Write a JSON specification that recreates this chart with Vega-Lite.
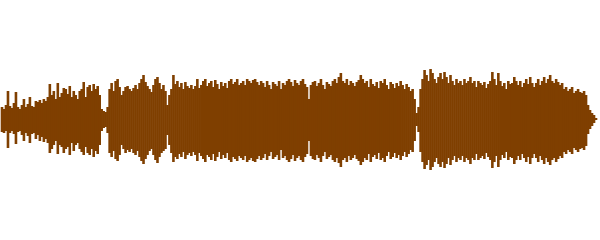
{
"$schema": "https://vega.github.io/schema/vega-lite/v6.json",
"width": 600, "height": 240,
"autosize": {"type": "fit", "contains": "padding"},
"padding": 0,
"background": "white",
"config": {"view": {"stroke": null}},
"data": {"values": [
{"x":0,"u":12,"d":-13},{"x":2,"u":10,"d":-14},{"x":4,"u":14,"d":-12},{"x":6,"u":28,"d":-29},{"x":8,"u":13,"d":-14},{"x":10,"u":11,"d":-12},{"x":12,"u":16,"d":-15},{"x":14,"u":27,"d":-25},{"x":16,"u":12,"d":-13},{"x":18,"u":10,"d":-12},
{"x":20,"u":14,"d":-16},{"x":22,"u":20,"d":-22},{"x":24,"u":12,"d":-14},{"x":26,"u":15,"d":-17},{"x":28,"u":22,"d":-24},{"x":30,"u":13,"d":-15},{"x":32,"u":12,"d":-14},{"x":34,"u":18,"d":-20},{"x":36,"u":17,"d":-16},{"x":38,"u":19,"d":-22},
{"x":40,"u":16,"d":-18},{"x":42,"u":20,"d":-23},{"x":44,"u":18,"d":-20},{"x":46,"u":22,"d":-24},{"x":48,"u":35,"d":-34},{"x":50,"u":24,"d":-30},{"x":52,"u":28,"d":-26},{"x":54,"u":20,"d":-22},{"x":56,"u":36,"d":-35},{"x":58,"u":22,"d":-26},
{"x":60,"u":26,"d":-28},{"x":62,"u":31,"d":-34},{"x":64,"u":30,"d":-30},{"x":66,"u":25,"d":-28},{"x":68,"u":33,"d":-36},{"x":70,"u":22,"d":-24},{"x":72,"u":28,"d":-32},{"x":74,"u":24,"d":-26},{"x":76,"u":20,"d":-24},{"x":78,"u":28,"d":-30},
{"x":80,"u":30,"d":-33},{"x":82,"u":37,"d":-36},{"x":84,"u":22,"d":-28},{"x":86,"u":32,"d":-34},{"x":88,"u":34,"d":-36},{"x":90,"u":28,"d":-30},{"x":92,"u":35,"d":-38},{"x":94,"u":30,"d":-32},{"x":96,"u":33,"d":-35},{"x":98,"u":24,"d":-26},
{"x":100,"u":10,"d":-12},{"x":102,"u":8,"d":-9},{"x":104,"u":7,"d":-8},{"x":106,"u":12,"d":-14},{"x":108,"u":30,"d":-34},{"x":110,"u":36,"d":-38},{"x":112,"u":28,"d":-32},{"x":114,"u":38,"d":-40},{"x":116,"u":40,"d":-42},{"x":118,"u":32,"d":-36},
{"x":120,"u":24,"d":-26},{"x":122,"u":28,"d":-30},{"x":124,"u":32,"d":-34},{"x":126,"u":33,"d":-31},{"x":128,"u":30,"d":-33},{"x":130,"u":28,"d":-30},{"x":132,"u":31,"d":-34},{"x":134,"u":34,"d":-36},{"x":136,"u":30,"d":-32},{"x":138,"u":36,"d":-38},
{"x":140,"u":40,"d":-42},{"x":142,"u":44,"d":-45},{"x":144,"u":37,"d":-40},{"x":146,"u":33,"d":-36},{"x":148,"u":30,"d":-32},{"x":150,"u":27,"d":-30},{"x":152,"u":34,"d":-36},{"x":154,"u":40,"d":-41},{"x":156,"u":42,"d":-44},{"x":158,"u":36,"d":-38},
{"x":160,"u":30,"d":-34},{"x":162,"u":34,"d":-32},{"x":164,"u":28,"d":-30},{"x":166,"u":14,"d":-16},{"x":168,"u":24,"d":-26},{"x":170,"u":30,"d":-34},{"x":172,"u":44,"d":-43},{"x":174,"u":35,"d":-38},{"x":176,"u":38,"d":-40},{"x":178,"u":32,"d":-35},
{"x":180,"u":36,"d":-38},{"x":182,"u":30,"d":-33},{"x":184,"u":37,"d":-40},{"x":186,"u":33,"d":-36},{"x":188,"u":31,"d":-34},{"x":190,"u":34,"d":-37},{"x":192,"u":30,"d":-33},{"x":194,"u":33,"d":-36},{"x":196,"u":40,"d":-42},{"x":198,"u":31,"d":-34},
{"x":200,"u":34,"d":-37},{"x":202,"u":38,"d":-40},{"x":204,"u":40,"d":-43},{"x":206,"u":33,"d":-36},{"x":208,"u":36,"d":-38},{"x":210,"u":38,"d":-41},{"x":212,"u":32,"d":-35},{"x":214,"u":39,"d":-42},{"x":216,"u":35,"d":-38},{"x":218,"u":30,"d":-33},
{"x":220,"u":37,"d":-40},{"x":222,"u":33,"d":-36},{"x":224,"u":36,"d":-39},{"x":226,"u":31,"d":-34},{"x":228,"u":38,"d":-41},{"x":230,"u":40,"d":-43},{"x":232,"u":35,"d":-38},{"x":234,"u":37,"d":-40},{"x":236,"u":40,"d":-42},{"x":238,"u":34,"d":-37},
{"x":240,"u":36,"d":-39},{"x":242,"u":38,"d":-41},{"x":244,"u":34,"d":-37},{"x":246,"u":40,"d":-43},{"x":248,"u":38,"d":-41},{"x":250,"u":36,"d":-39},{"x":252,"u":39,"d":-42},{"x":254,"u":40,"d":-43},{"x":256,"u":37,"d":-40},{"x":258,"u":34,"d":-37},
{"x":260,"u":38,"d":-41},{"x":262,"u":36,"d":-39},{"x":264,"u":32,"d":-35},{"x":266,"u":38,"d":-41},{"x":268,"u":34,"d":-37},{"x":270,"u":30,"d":-33},{"x":272,"u":37,"d":-40},{"x":274,"u":35,"d":-38},{"x":276,"u":33,"d":-36},{"x":278,"u":38,"d":-41},
{"x":280,"u":30,"d":-31},{"x":282,"u":36,"d":-39},{"x":284,"u":34,"d":-37},{"x":286,"u":38,"d":-41},{"x":288,"u":40,"d":-43},{"x":290,"u":37,"d":-40},{"x":292,"u":33,"d":-36},{"x":294,"u":39,"d":-42},{"x":296,"u":36,"d":-39},{"x":298,"u":34,"d":-37},
{"x":300,"u":38,"d":-41},{"x":302,"u":40,"d":-43},{"x":304,"u":35,"d":-38},{"x":306,"u":32,"d":-35},{"x":308,"u":20,"d":-22},{"x":310,"u":34,"d":-37},{"x":312,"u":37,"d":-40},{"x":314,"u":38,"d":-41},{"x":316,"u":33,"d":-36},{"x":318,"u":36,"d":-39},
{"x":320,"u":40,"d":-43},{"x":322,"u":34,"d":-37},{"x":324,"u":30,"d":-33},{"x":326,"u":37,"d":-40},{"x":328,"u":35,"d":-38},{"x":330,"u":33,"d":-36},{"x":332,"u":38,"d":-41},{"x":334,"u":40,"d":-43},{"x":336,"u":36,"d":-39},{"x":338,"u":42,"d":-44},
{"x":340,"u":46,"d":-48},{"x":342,"u":38,"d":-41},{"x":344,"u":36,"d":-39},{"x":346,"u":40,"d":-43},{"x":348,"u":34,"d":-37},{"x":350,"u":38,"d":-41},{"x":352,"u":36,"d":-39},{"x":354,"u":33,"d":-36},{"x":356,"u":37,"d":-40},{"x":358,"u":39,"d":-42},
{"x":360,"u":44,"d":-46},{"x":362,"u":40,"d":-43},{"x":364,"u":36,"d":-39},{"x":366,"u":38,"d":-41},{"x":368,"u":32,"d":-35},{"x":370,"u":40,"d":-43},{"x":372,"u":35,"d":-38},{"x":374,"u":33,"d":-36},{"x":376,"u":37,"d":-40},{"x":378,"u":31,"d":-34},
{"x":380,"u":38,"d":-41},{"x":382,"u":36,"d":-39},{"x":384,"u":40,"d":-43},{"x":386,"u":34,"d":-37},{"x":388,"u":30,"d":-33},{"x":390,"u":37,"d":-40},{"x":392,"u":35,"d":-38},{"x":394,"u":31,"d":-34},{"x":396,"u":36,"d":-39},{"x":398,"u":33,"d":-36},
{"x":400,"u":38,"d":-41},{"x":402,"u":34,"d":-37},{"x":404,"u":30,"d":-33},{"x":406,"u":35,"d":-38},{"x":408,"u":32,"d":-35},{"x":410,"u":28,"d":-31},{"x":412,"u":30,"d":-33},{"x":414,"u":20,"d":-22},{"x":416,"u":6,"d":-7},{"x":418,"u":12,"d":-13},
{"x":420,"u":30,"d":-33},{"x":422,"u":40,"d":-43},{"x":424,"u":49,"d":-50},{"x":426,"u":44,"d":-46},{"x":428,"u":38,"d":-41},{"x":430,"u":50,"d":-51},{"x":432,"u":46,"d":-48},{"x":434,"u":40,"d":-43},{"x":436,"u":36,"d":-39},{"x":438,"u":42,"d":-45},
{"x":440,"u":46,"d":-48},{"x":442,"u":40,"d":-43},{"x":444,"u":47,"d":-49},{"x":446,"u":42,"d":-45},{"x":448,"u":36,"d":-39},{"x":450,"u":44,"d":-46},{"x":452,"u":38,"d":-41},{"x":454,"u":34,"d":-37},{"x":456,"u":40,"d":-43},{"x":458,"u":36,"d":-39},
{"x":460,"u":38,"d":-41},{"x":462,"u":34,"d":-37},{"x":464,"u":40,"d":-43},{"x":466,"u":36,"d":-39},{"x":468,"u":38,"d":-41},{"x":470,"u":42,"d":-45},{"x":472,"u":36,"d":-39},{"x":474,"u":38,"d":-41},{"x":476,"u":32,"d":-35},{"x":478,"u":38,"d":-41},
{"x":480,"u":36,"d":-39},{"x":482,"u":34,"d":-37},{"x":484,"u":37,"d":-40},{"x":486,"u":31,"d":-34},{"x":488,"u":35,"d":-38},{"x":490,"u":38,"d":-41},{"x":492,"u":47,"d":-49},{"x":494,"u":40,"d":-43},{"x":496,"u":34,"d":-37},{"x":498,"u":46,"d":-48},
{"x":500,"u":38,"d":-41},{"x":502,"u":33,"d":-36},{"x":504,"u":36,"d":-39},{"x":506,"u":30,"d":-33},{"x":508,"u":38,"d":-41},{"x":510,"u":35,"d":-38},{"x":512,"u":36,"d":-39},{"x":514,"u":42,"d":-45},{"x":516,"u":38,"d":-41},{"x":518,"u":34,"d":-37},
{"x":520,"u":38,"d":-41},{"x":522,"u":32,"d":-35},{"x":524,"u":36,"d":-39},{"x":526,"u":40,"d":-43},{"x":528,"u":35,"d":-38},{"x":530,"u":42,"d":-45},{"x":532,"u":36,"d":-39},{"x":534,"u":32,"d":-35},{"x":536,"u":36,"d":-39},{"x":538,"u":40,"d":-43},
{"x":540,"u":34,"d":-37},{"x":542,"u":38,"d":-41},{"x":544,"u":42,"d":-45},{"x":546,"u":36,"d":-39},{"x":548,"u":40,"d":-43},{"x":550,"u":44,"d":-46},{"x":552,"u":38,"d":-41},{"x":554,"u":36,"d":-39},{"x":556,"u":40,"d":-43},{"x":558,"u":37,"d":-40},
{"x":560,"u":34,"d":-37},{"x":562,"u":36,"d":-39},{"x":564,"u":30,"d":-33},{"x":566,"u":32,"d":-35},{"x":568,"u":28,"d":-31},{"x":570,"u":30,"d":-33},{"x":572,"u":32,"d":-35},{"x":574,"u":26,"d":-29},{"x":576,"u":28,"d":-31},{"x":578,"u":30,"d":-33},
{"x":580,"u":27,"d":-30},{"x":582,"u":26,"d":-29},{"x":584,"u":28,"d":-31},{"x":586,"u":24,"d":-27},{"x":588,"u":14,"d":-15},{"x":590,"u":9,"d":-10},{"x":592,"u":6,"d":-7},{"x":594,"u":4,"d":-4},{"x":596,"u":1,"d":-1}
]},
"mark": {"type": "rule", "strokeWidth": 2.6, "strokeCap": "butt", "color": "#7f3f00"},
"encoding": {
"x": {"field": "x", "type": "quantitative", "scale": {"domain": [0, 600], "nice": false, "zero": false}, "axis": null},
"y": {"field": "u", "type": "quantitative", "scale": {"domain": [-121, 119], "nice": false, "zero": false}, "axis": null},
"y2": {"field": "d"}
}
}
